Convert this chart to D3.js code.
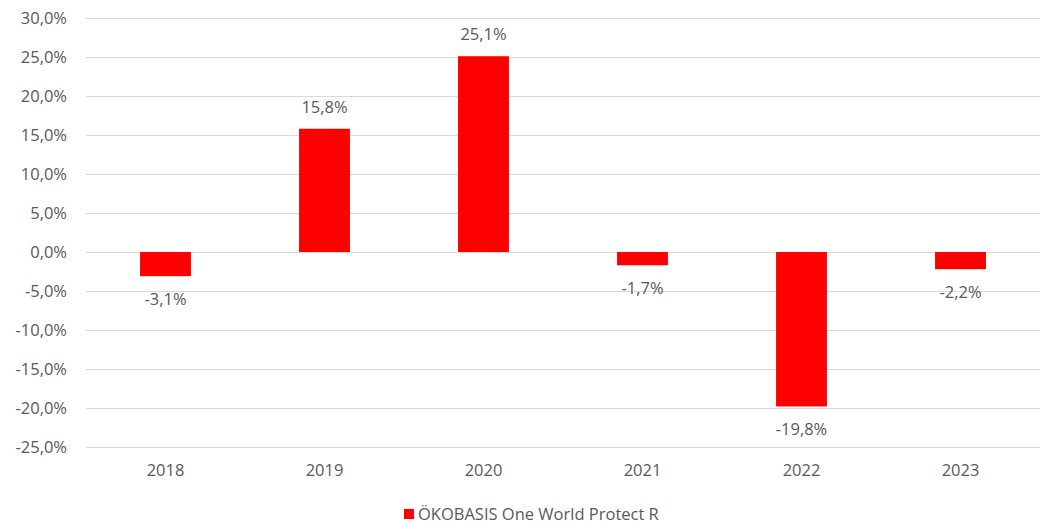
<!DOCTYPE html>
<html>
<head>
<meta charset="utf-8">
<script src="https://cdn.jsdelivr.net/npm/d3@7"></script>
<style>
  body { margin: 0; background: #fff; }
  text { font-family: "Open Sans", "Noto Sans", sans-serif; fill: #595959; }
</style>
</head>
<body>
<svg id="chart" width="1042" height="524"></svg>
<script>
// ---- data ----
const years = ["2018", "2019", "2020", "2021", "2022", "2023"];
const returns = [-3.1, 15.8, 25.1, -1.7, -19.8, -2.2];
const yTicks = [30, 25, 20, 15, 10, 5, 0, -5, -10, -15, -20, -25];
const seriesName = "ÖKOBASIS One World Protect R";

const margin = { left: 86, right: 2, top: 18, bottom: 77 };
const width = 1042, height = 524;
const fontSize = "16.5px";

const svg = d3.select("#chart");

const x = d3.scaleBand()
            .domain(years)
            .range([margin.left, width - margin.right])
            .paddingInner(0.68)
            .paddingOuter(0.34);

const y = d3.scaleLinear()
            .domain([-25, 30])
            .range([height - margin.bottom, margin.top]);

const fmt = v => d3.format(".1f")(v).replace(".", ",").replace("−", "-") + "%";

// gridlines
svg.append("g")
   .selectAll("line")
   .data(yTicks)
   .join("line")
   .attr("x1", margin.left)
   .attr("x2", width - margin.right)
   .attr("y1", d => Math.round(y(d)) + 0.5)
   .attr("y2", d => Math.round(y(d)) + 0.5)
   .attr("stroke", "#d9d9d9")
   .attr("stroke-width", 1);

// y labels
svg.append("g")
   .selectAll("text")
   .data(yTicks)
   .join("text")
   .attr("x", 67)
   .attr("y", d => y(d))
   .attr("dy", "0.35em")
   .attr("text-anchor", "end")
   .style("font-size", fontSize)
   .text(d => fmt(d));

// bars
svg.append("g")
   .selectAll("rect")
   .data(returns)
   .join("rect")
   .attr("x", (d, i) => x(years[i]))
   .attr("width", x.bandwidth())
   .attr("y", d => y(Math.max(0, d)))
   .attr("height", d => Math.abs(y(d) - y(0)))
   .attr("fill", "#ff0000");

// value labels
svg.append("g")
   .selectAll("text")
   .data(returns)
   .join("text")
   .attr("x", (d, i) => x(years[i]) + x.bandwidth() / 2)
   .attr("y", d => d >= 0 ? y(d) - 22 : y(d) + 23)
   .attr("dy", "0.35em")
   .attr("text-anchor", "middle")
   .style("font-size", fontSize)
   .text(d => fmt(d));

// x labels
svg.append("g")
   .selectAll("text")
   .data(years)
   .join("text")
   .attr("x", d => x(d) + x.bandwidth() / 2)
   .attr("y", 470)
   .attr("dy", "0.35em")
   .attr("text-anchor", "middle")
   .style("font-size", fontSize)
   .text(d => d);

// legend
const legend = svg.append("g").attr("transform", "translate(404,514)");
legend.append("rect")
      .attr("x", 0)
      .attr("y", -5)
      .attr("width", 10)
      .attr("height", 10)
      .attr("fill", "#ff0000");
legend.append("text")
      .attr("x", 14)
      .attr("y", 0)
      .attr("dy", "0.35em")
      .style("font-size", fontSize)
      .text(seriesName);
</script>
</body>
</html>
